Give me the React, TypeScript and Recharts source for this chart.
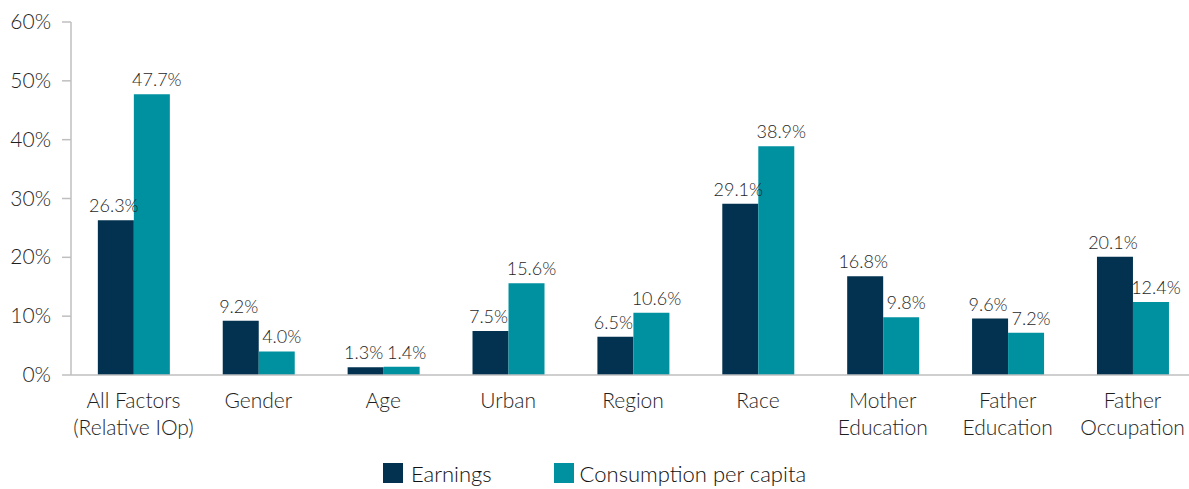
import { BarChart, Bar, XAxis, YAxis, Legend, LabelList } from "recharts";

const categories = [
  ["All Factors", "(Relative IOp)"],
  ["Gender"],
  ["Age"],
  ["Urban"],
  ["Region"],
  ["Race"],
  ["Mother", "Education"],
  ["Father", "Education"],
  ["Father", "Occupation"],
];
const earnings = [26.3, 9.2, 1.3, 7.5, 6.5, 29.1, 16.8, 9.6, 20.1];
const consumption = [47.7, 4.0, 1.4, 15.6, 10.6, 38.9, 9.8, 7.2, 12.4];
const yTicks = [0, 10, 20, 30, 40, 50, 60];

const data = categories.map((c, i) => ({
  name: c.join(" "),
  earnings: earnings[i],
  consumption: consumption[i],
}));

const FONT = "Lato, 'Open Sans', sans-serif";
const TEXT = "#1f1f1f";
const EARN = "#02324f";
const CONS = "#0091a0";

const CategoryTick = (props: any) => {
  const { x, y, index } = props;
  const lines = categories[index] || [];
  return (
    <text x={x} y={y} textAnchor="middle" fill={TEXT} fontSize={21} fontFamily={FONT} fontWeight={300}>
      {lines.map((l, i) => (
        <tspan key={i} x={x} dy={i === 0 ? 25 : 27}>
          {l}
        </tspan>
      ))}
    </text>
  );
};

const PercentTick = (props: any) => {
  const { y, payload } = props;
  return (
    <text x={51} y={y + 7} textAnchor="end" fill={TEXT} fontSize={21} fontFamily={FONT} fontWeight={300}>
      {`${payload.value}%`}
    </text>
  );
};

const makeLabel = (dx: number) => (props: any) => {
  const { x, y, width, value } = props;
  return (
    <text
      x={x + width / 2 + dx}
      y={y - 8}
      textAnchor="middle"
      fill={TEXT}
      fontSize={18}
      fontFamily={FONT}
      fontWeight={300}
    >
      {`${Number(value).toFixed(1)}%`}
    </text>
  );
};
const EarnLabel = makeLabel(-2);
const ConsLabel = makeLabel(5);

const LegendContent = () => (
  <div
    style={{
      display: "flex",
      justifyContent: "center",
      alignItems: "center",
      fontFamily: FONT,
      fontWeight: 300,
      fontSize: 22,
      color: "#111",
      marginTop: 5,
      height: 30,
      paddingRight: 6,
    }}
  >
    <div style={{ display: "flex", alignItems: "center", marginRight: 62 }}>
      <span style={{ width: 20, height: 20, background: EARN, display: "inline-block", marginRight: 8 }} />
      Earnings
    </div>
    <div style={{ display: "flex", alignItems: "center" }}>
      <span style={{ width: 20, height: 20, background: CONS, display: "inline-block", marginRight: 6 }} />
      Consumption per capita
    </div>
  </div>
);

export default function App() {
  return (
    <div style={{ position: "absolute", left: 0, top: 0, width: 1189, height: 489, overflow: "hidden", background: "#fff" }}>
      <BarChart
        width={1195}
        height={489}
        data={data}
        margin={{ top: 22, right: 0, left: 0, bottom: 0 }}
        barCategoryGap="21.5%"
        barGap={0}
      >
        <XAxis
          dataKey="name"
          tick={<CategoryTick />}
          tickLine={false}
          axisLine={{ stroke: "#bfbfbf", strokeWidth: 1.5 }}
          height={78}
          interval={0}
        />
        <YAxis
          domain={[0, 60]}
          ticks={yTicks}
          width={71}
          axisLine={{ stroke: "#bfbfbf", strokeWidth: 1.5 }}
          tickLine={{ stroke: "#bfbfbf", strokeWidth: 1.5 }}
          tickSize={9}
          tick={<PercentTick />}
        />
        <Legend verticalAlign="bottom" height={36} content={<LegendContent />} />
        <Bar dataKey="earnings" fill={EARN} isAnimationActive={false}>
          <LabelList dataKey="earnings" content={<EarnLabel />} />
        </Bar>
        <Bar dataKey="consumption" fill={CONS} isAnimationActive={false}>
          <LabelList dataKey="consumption" content={<ConsLabel />} />
        </Bar>
      </BarChart>
    </div>
  );
}
